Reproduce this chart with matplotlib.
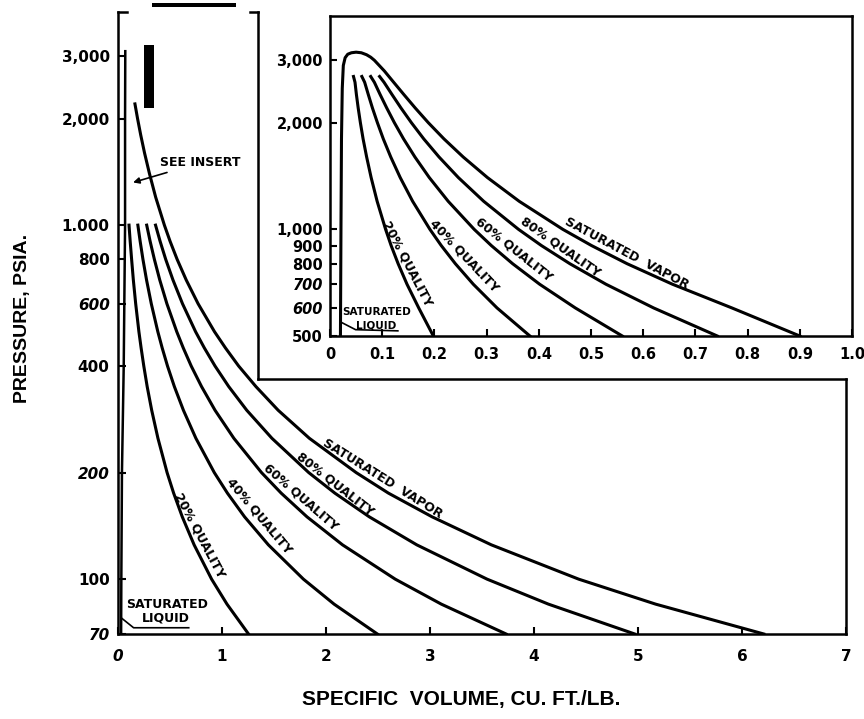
import matplotlib
matplotlib.use("Agg")
import matplotlib.pyplot as plt
from matplotlib.patches import Rectangle
from matplotlib.ticker import NullLocator

# ---------------- data (specific volume cu.ft./lb vs pressure psia) ----------------
# main chart
main_p = [70, 85, 100, 125, 150, 175, 200, 250, 300, 350, 400, 450, 500, 600, 700, 800, 900, 1000]
main_q20 = [1.255, 1.048, 0.900, 0.732, 0.618, 0.535, 0.472, 0.384, 0.324, 0.2805, 0.248, 0.2222,
            0.201, 0.170, 0.1475, 0.131, 0.1171, 0.106]
main_q40 = [2.494, 2.078, 1.783, 1.446, 1.217, 1.052, 0.926, 0.749, 0.629, 0.5419, 0.476, 0.4248,
            0.383, 0.320, 0.2745, 0.240, 0.2131, 0.191]
main_q60 = [3.732, 3.109, 2.666, 2.159, 1.817, 1.569, 1.380, 1.114, 0.933, 0.8032, 0.704, 0.6275,
            0.565, 0.470, 0.4016, 0.350, 0.3090, 0.276]
main_q80 = [4.969, 4.139, 3.549, 2.873, 2.416, 2.085, 1.834, 1.480, 1.238, 1.0646, 0.933, 0.8301,
            0.746, 0.620, 0.5286, 0.459, 0.4050, 0.361]
main_vap_p = [70, 85, 100, 125, 150, 175, 200, 250, 300, 350, 400, 450, 500, 600, 700, 800, 900, 1000,
              1200, 1400, 1600, 1800, 2000, 2200]
main_vap_v = [6.21, 5.17, 4.43, 3.59, 3.02, 2.60, 2.29, 1.84, 1.54, 1.326, 1.16, 1.033, 0.928, 0.770,
              0.656, 0.569, 0.501, 0.446, 0.362, 0.302, 0.255, 0.218, 0.188, 0.163]
main_liq_p = [70, 100, 200, 400, 1000, 2000, 3100]
main_liq_v = [0.030, 0.032, 0.038, 0.055, 0.068, 0.068, 0.070]

main_yticks = [70, 100, 200, 400, 600, 800, 1000, 2000, 3000]
main_ylabels = ["70", "100", "200", "400", "600", "800", "1.000", "2,000", "3,000"]
main_xticks = [0, 1, 2, 3, 4, 5, 6, 7]
main_xlabels = ["0", "1", "2", "3", "4", "5", "6", "7"]

# inset chart
ins_p = [500, 600, 700, 800, 900, 1000, 1200, 1400, 1600, 1800, 2000, 2200, 2400, 2600, 2700]
ins_q20 = [0.198, 0.170, 0.1475, 0.1305, 0.1171, 0.1065, 0.0903, 0.0788, 0.0702, 0.0634, 0.0582, 0.0540, 0.0506, 0.0479, 0.045]
ins_q40 = [0.383, 0.320, 0.2745, 0.2401, 0.2131, 0.1914, 0.1583, 0.1345, 0.1164, 0.1021, 0.0908, 0.0813, 0.0734, 0.0664, 0.061]
ins_q60 = [0.560, 0.470, 0.4016, 0.3498, 0.3090, 0.2762, 0.2264, 0.1902, 0.1627, 0.1409, 0.1233, 0.1087, 0.0961, 0.0850, 0.078]
ins_q80 = [0.742, 0.620, 0.5286, 0.4594, 0.4050, 0.3611, 0.2944, 0.2459, 0.2089, 0.1796, 0.1559, 0.1360, 0.1189, 0.1035, 0.095]
# saturation dome: liquid side up, over the top, vapor side down
ins_dome_v = [0.020, 0.021, 0.022, 0.0235, 0.0255, 0.029, 0.034, 0.041, 0.050, 0.060, 0.070, 0.078,
              0.085, 0.104, 0.122, 0.1416, 0.1633, 0.1883, 0.2183, 0.2552, 0.3016, 0.3624, 0.446,
              0.501, 0.569, 0.656, 0.770, 0.900]
ins_dome_p = [500, 1000, 1800, 2500, 2900, 3050, 3120, 3150, 3162, 3150, 3110, 3060,
              3000, 2800, 2600, 2400, 2200, 2000, 1800, 1600, 1400, 1200, 1000,
              900, 800, 700, 600, 500]

ins_yticks = [500, 600, 700, 800, 900, 1000, 2000, 3000]
ins_ylabels = ["500", "600", "700", "800", "900", "1,000", "2,000", "3,000"]
ins_xticks = [0, 0.1, 0.2, 0.3, 0.4, 0.5, 0.6, 0.7, 0.8, 0.9, 1.0]
ins_xlabels = ["0", "0.1", "0.2", "0.3", "0.4", "0.5", "0.6", "0.7", "0.8", "0.9", "1.0"]

W, H = 864, 719
LW = 2.2
FONT = "DejaVu Sans"

fig = plt.figure(figsize=(W / 100, H / 100), dpi=100)
fig.patch.set_facecolor("white")

# ---------------- main axes ----------------
ax = fig.add_axes([118 / W, 1 - 634 / H, 728 / W, 622 / H])
ax.set_yscale("log")
ax.set_xlim(0, 7)
ax.set_ylim(70, 4000)
for s in ["top", "right"]:
    ax.spines[s].set_visible(False)
for s in ["left", "bottom"]:
    ax.spines[s].set_linewidth(1.8)

ax.plot(main_q20, main_p, color="black", lw=LW)
ax.plot(main_q40, main_p, color="black", lw=LW)
ax.plot(main_q60, main_p, color="black", lw=LW)
ax.plot(main_q80, main_p, color="black", lw=LW)
ax.plot(main_vap_v, main_vap_p, color="black", lw=LW)
ax.plot(main_liq_v, main_liq_p, color="black", lw=1.8)

ax.yaxis.set_minor_locator(NullLocator())
ax.set_yticks(main_yticks)
ax.set_yticklabels(main_ylabels)
ax.set_xticks(main_xticks)
ax.set_xticklabels(main_xlabels)
ax.tick_params(axis="y", direction="in", length=6, width=1.5, pad=6)
ax.tick_params(axis="x", direction="in", length=5, width=1.5, pad=11)
for lab in ax.get_yticklabels() + ax.get_xticklabels():
    lab.set_fontfamily(FONT)
    lab.set_fontweight("bold")
    lab.set_fontsize(11)
for lab in ax.get_yticklabels():
    if lab.get_text() in ("600", "200", "70"):
        lab.set_fontstyle("italic")
for lab in ax.get_xticklabels():
    if lab.get_text() == "0":
        lab.set_fontstyle("italic")

# frame pieces (cut-out for the inset)
cx, cy = 0.192, 0.41
frame = dict(color="black", lw=1.8, transform=ax.transAxes, clip_on=False, solid_capstyle="projecting")
ax.plot([1, 1], [0, cy], **frame)
ax.plot([cx, 1], [cy, cy], **frame)
ax.plot([cx, cx], [cy, 1], **frame)
ax.plot([cx - 0.01, cx], [1, 1], **frame)
ax.plot([0, 0.012], [1, 1], **frame)

# curve labels (main)
lab_kw = dict(fontfamily=FONT, fontweight="bold", ha="center", va="center",
              rotation_mode="anchor", color="black")
ax.text(2.54, 192, "SATURATED  VAPOR", fontsize=9, rotation=-32, **lab_kw)
ax.text(2.09, 186, "80% QUALITY", fontsize=9, rotation=-38, **lab_kw)
ax.text(1.76, 171, "60% QUALITY", fontsize=9, rotation=-41, **lab_kw)
ax.text(1.36, 151, "40% QUALITY", fontsize=9, rotation=-50, **lab_kw)
ax.text(0.78, 133, "20% QUALITY", fontsize=9, rotation=-62, **lab_kw)
ax.text(0.47, 85, "SATURATED", fontsize=9, **lab_kw)
ax.text(0.46, 77.5, "LIQUID", fontsize=9, **lab_kw)
ax.plot([0.03, 0.15, 0.68], [77.8, 72.9, 72.9], color="black", lw=1.2)

ax.annotate("SEE INSERT", xy=(0.145, 1320), xytext=(0.40, 1500),
            fontsize=9, fontfamily=FONT, fontweight="bold", ha="left", va="center",
            arrowprops=dict(arrowstyle="-|>", color="black", lw=1.2, mutation_scale=9,
                            shrinkA=1, shrinkB=0))

# ---------------- inset axes ----------------
ia = fig.add_axes([330 / W, 1 - 336 / H, 522 / W, 320 / H])
ia.set_facecolor("white")
ia.set_yscale("log")
ia.set_xlim(0, 1.0)
ia.set_ylim(500, 4000)
for s in ia.spines.values():
    s.set_linewidth(1.8)

ia.plot(ins_dome_v, ins_dome_p, color="black", lw=LW)
ia.plot(ins_q20, ins_p, color="black", lw=LW)
ia.plot(ins_q40, ins_p, color="black", lw=LW)
ia.plot(ins_q60, ins_p, color="black", lw=LW)
ia.plot(ins_q80, ins_p, color="black", lw=LW)

ia.yaxis.set_minor_locator(NullLocator())
ia.set_yticks(ins_yticks)
ia.set_yticklabels(ins_ylabels)
ia.set_xticks(ins_xticks)
ia.set_xticklabels(ins_xlabels)
ia.tick_params(axis="y", direction="in", length=5, width=1.5, pad=5)
ia.tick_params(axis="x", direction="in", length=5, width=1.5, pad=8)
for lab in ia.get_yticklabels() + ia.get_xticklabels():
    lab.set_fontfamily(FONT)
    lab.set_fontweight("bold")
    lab.set_fontsize(10.5)
for lab in ia.get_yticklabels():
    if lab.get_text() in ("600", "700"):
        lab.set_fontstyle("italic")

ia.text(0.568, 855, "SATURATED  VAPOR", fontsize=9, rotation=-28, **lab_kw)
ia.text(0.441, 893, "80% QUALITY", fontsize=9, rotation=-35, **lab_kw)
ia.text(0.352, 876, "60% QUALITY", fontsize=9, rotation=-38.5, **lab_kw)
ia.text(0.256, 843, "40% QUALITY", fontsize=9, rotation=-46.5, **lab_kw)
ia.text(0.147, 800, "20% QUALITY", fontsize=9, rotation=-62.5, **lab_kw)
ia.text(0.089, 584, "SATURATED", fontsize=7.5, **lab_kw)
ia.text(0.089, 537, "LIQUID", fontsize=7.5, **lab_kw)
ia.plot([0.02, 0.049, 0.13], [548, 521, 517], color="black", lw=1.2)

# ---------------- axis titles ----------------
fig.text(461 / W, 1 - 700 / H, "SPECIFIC  VOLUME, CU. FT./LB.", fontfamily="Liberation Sans",
         fontweight="bold", fontsize=15, ha="center", va="center")
fig.text(23 / W, 1 - 318 / H, "PRESSURE, PSIA.", fontfamily="Liberation Sans",
         fontweight="bold", fontsize=14, ha="center", va="center", rotation=90)

# scan blots present in the original
fig.add_artist(Rectangle((152 / W, 1 - 7 / H), 84 / W, 4 / H, transform=fig.transFigure,
                         color="black", lw=0))
fig.add_artist(Rectangle((144 / W, 1 - 108 / H), 10 / W, 63 / H, transform=fig.transFigure,
                         color="black", lw=0))

fig.savefig("out.png", dpi=100, facecolor="white")
